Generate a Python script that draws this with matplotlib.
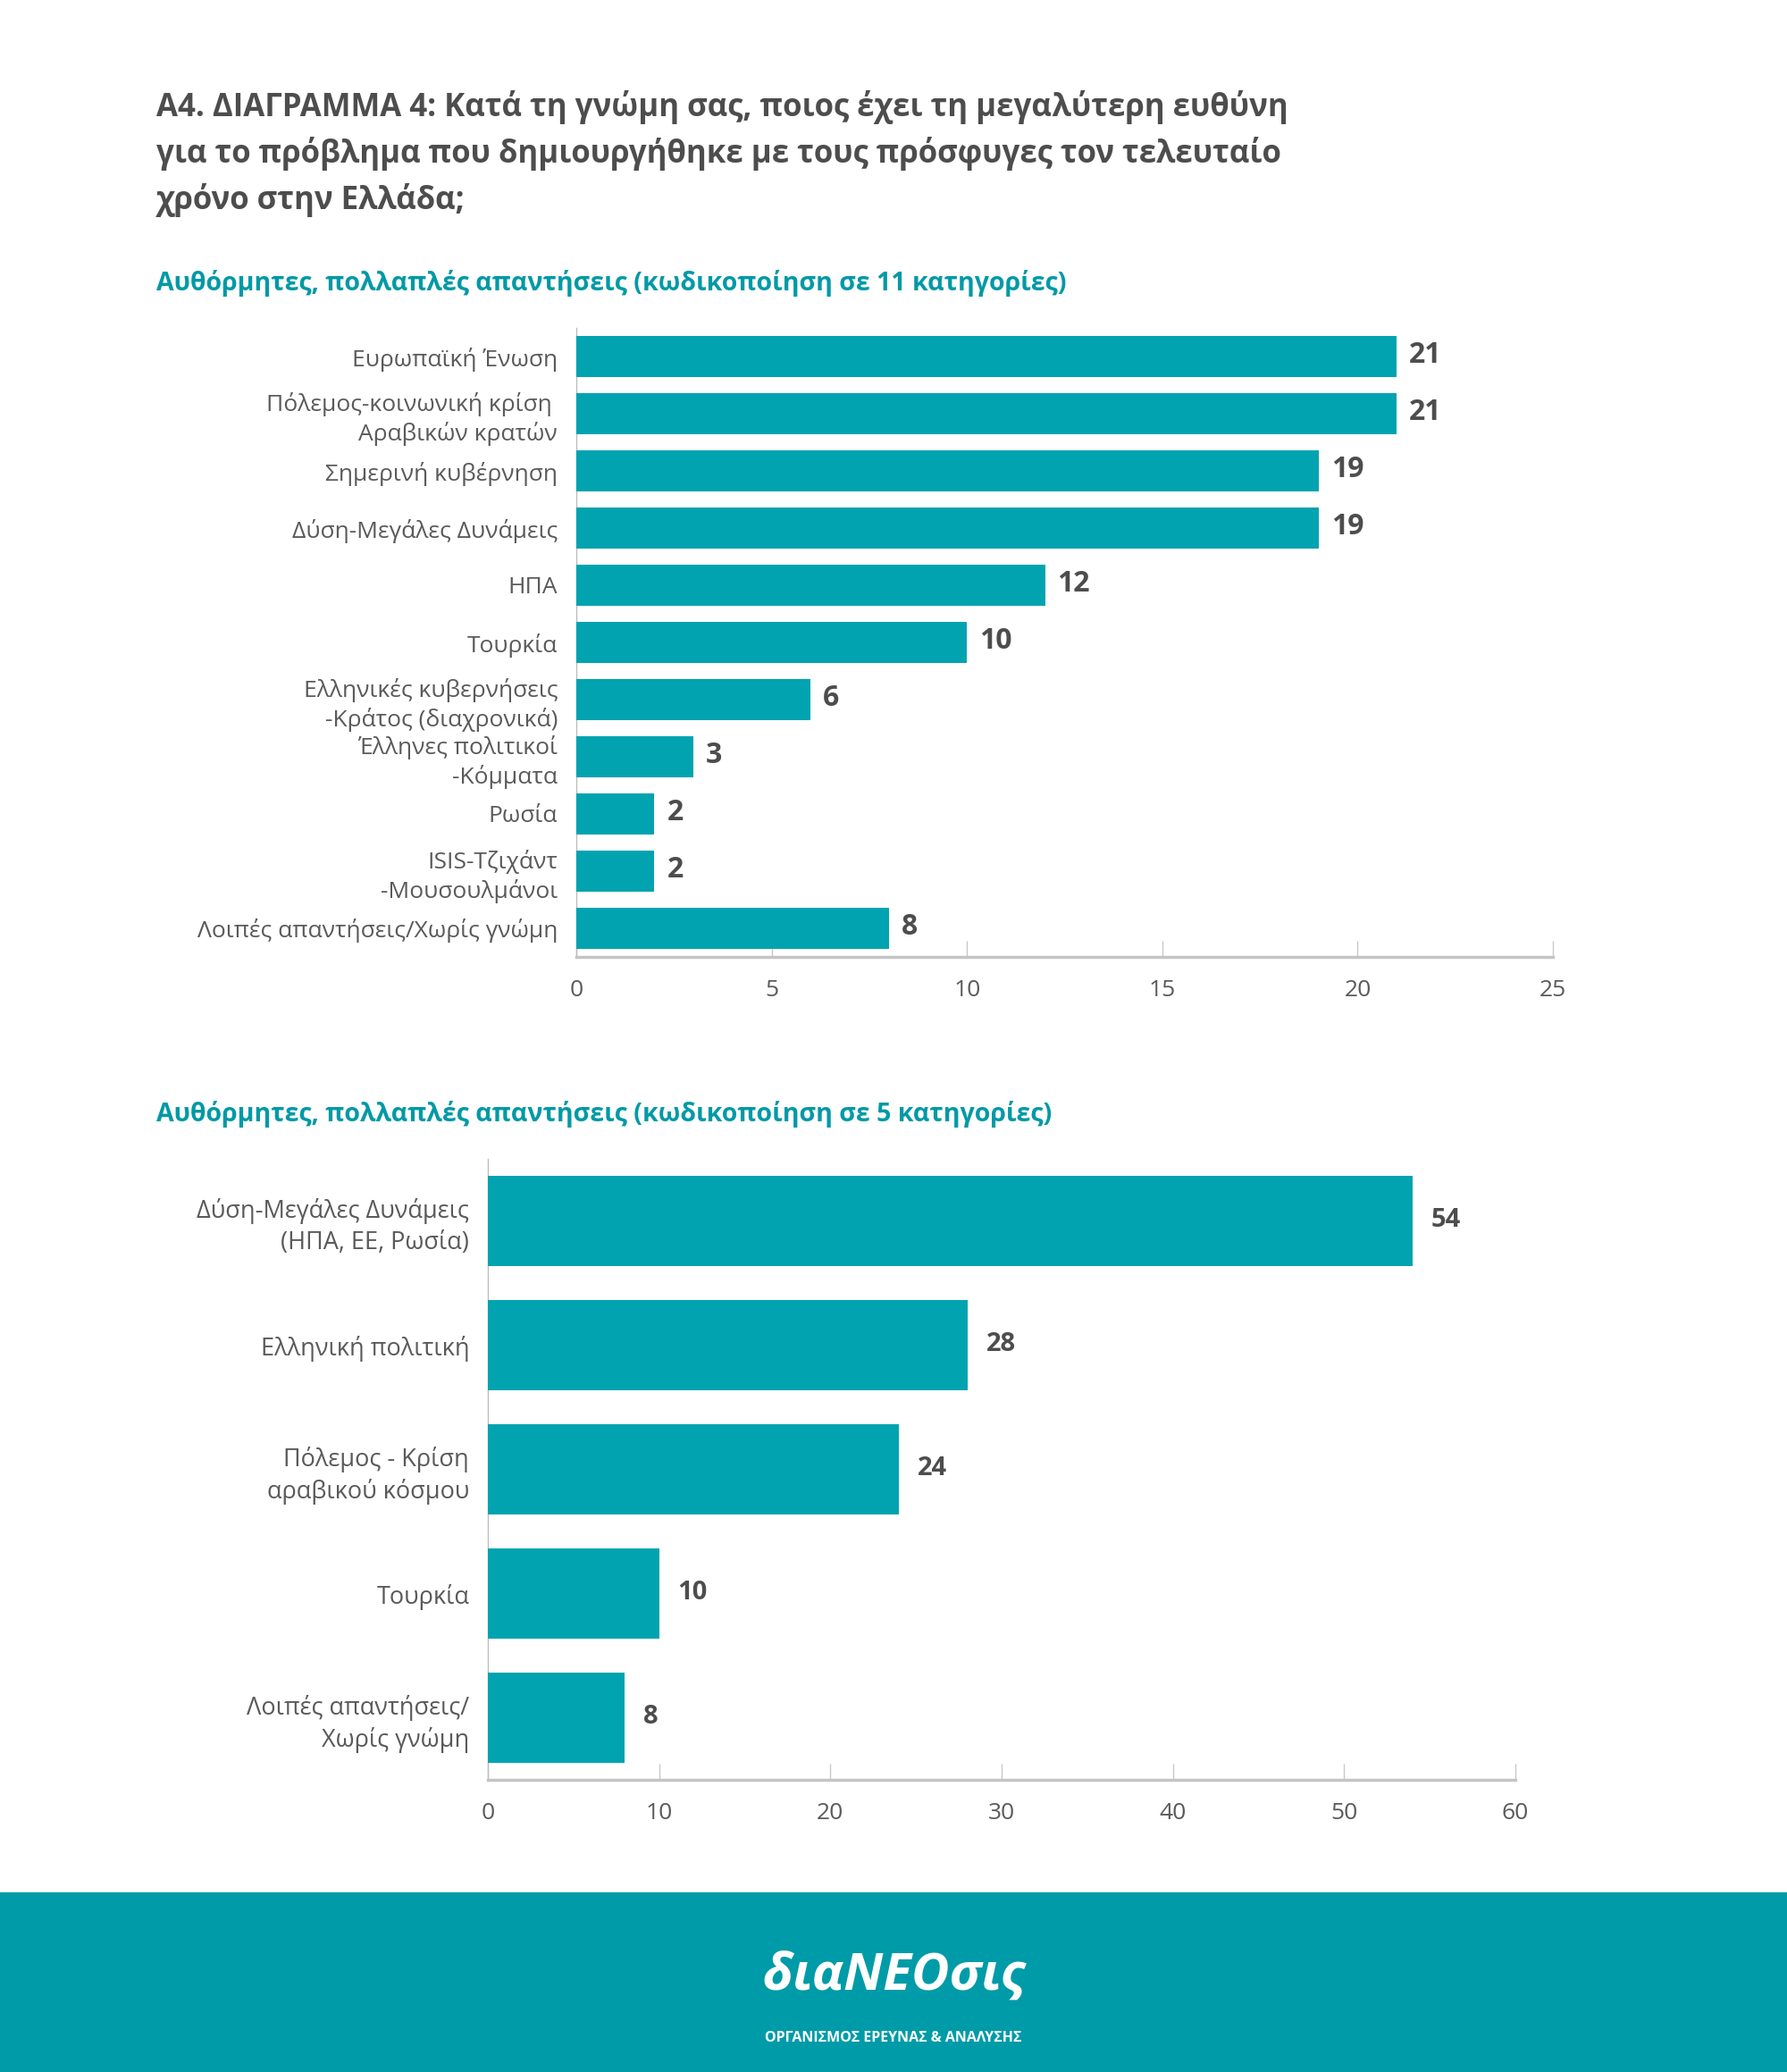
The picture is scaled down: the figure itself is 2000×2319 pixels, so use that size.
import matplotlib.pyplot as plt
from matplotlib.patches import Rectangle

plt.rcParams['font.family'] = ['Open Sans', 'DejaVu Sans']

# data
top_labels = ['Ευρωπαϊκή Ένωση', 'Πόλεμος-κοινωνική κρίση \nΑραβικών κρατών',
              'Σημερινή κυβέρνηση', 'Δύση-Μεγάλες Δυνάμεις', 'ΗΠΑ', 'Τουρκία',
              'Ελληνικές κυβερνήσεις\n-Κράτος (διαχρονικά)', 'Έλληνες πολιτικοί\n-Κόμματα',
              'Ρωσία', 'ISIS-Τζιχάντ\n-Μουσουλμάνοι', 'Λοιπές απαντήσεις/Χωρίς γνώμη']
top_values = [21, 21, 19, 19, 12, 10, 6, 3, 2, 2, 8]
top_ticks = [0, 5, 10, 15, 20, 25]

bottom_labels = ['Δύση-Μεγάλες Δυνάμεις\n(ΗΠΑ, ΕΕ, Ρωσία)', 'Ελληνική πολιτική',
                 'Πόλεμος - Κρίση\nαραβικού κόσμου', 'Τουρκία', 'Λοιπές απαντήσεις/\nΧωρίς γνώμη']
bottom_values = [54, 28, 24, 10, 8]
bottom_ticks = [0, 10, 20, 30, 40, 50, 60]

title = ('Α4. ΔΙΑΓΡΑΜΜΑ 4: Κατά τη γνώμη σας, ποιος έχει τη μεγαλύτερη ευθύνη\n'
         'για το πρόβλημα που δημιουργήθηκε με τους πρόσφυγες τον τελευταίο\n'
         'χρόνο στην Ελλάδα;')
sub1 = 'Αυθόρμητες, πολλαπλές απαντήσεις (κωδικοποίηση σε 11 κατηγορίες)'
sub2 = 'Αυθόρμητες, πολλαπλές απαντήσεις (κωδικοποίηση σε 5 κατηγορίες)'

BAR = '#00a3af'
TEAL_TXT = '#0099a6'
DARK = '#4d4d4d'
GRAY = '#5a5a5a'

W, H = 2000, 2319
fig = plt.figure(figsize=(W / 100, H / 100), dpi=100)
fig.patch.set_facecolor('white')


def draw(ax, labels, values, ticks, lab_size, val_size, val_off):
    y = list(range(len(values)))
    ax.barh(y, values, height=0.72, color=BAR, zorder=3)
    ax.set_ylim(len(values) - 0.5, -0.5)
    ax.set_xlim(ticks[0], ticks[-1])
    ax.set_yticks(y)
    ax.set_yticklabels(labels, fontsize=lab_size, color=GRAY, linespacing=1.3)
    ax.set_xticks(ticks)
    ax.set_xticklabels([str(t) for t in ticks], fontsize=19, color=GRAY)
    ax.tick_params(axis='y', length=0, pad=15)
    ax.tick_params(axis='x', direction='in', length=13, width=1, color='#c8c8c8', pad=18)
    for s in ['top', 'right']:
        ax.spines[s].set_visible(False)
    ax.spines['left'].set_color('#bdbdbd')
    ax.spines['left'].set_linewidth(1)
    ax.spines['bottom'].set_color('#c4c4c4')
    ax.spines['bottom'].set_linewidth(2.5)
    for yi, v in zip(y, values):
        ax.annotate(str(v), (v, yi), xytext=(val_off, 1), textcoords='offset points',
                    va='center', ha='left', fontsize=val_size, fontweight='bold', color=DARK)


ax1 = fig.add_axes([645 / W, 1 - 1071 / H, 1093 / W, 704 / H])
draw(ax1, top_labels, top_values, top_ticks, 19, 23, 10)

ax2 = fig.add_axes([546 / W, 1 - 1992 / H, 1150 / W, 695 / H])
draw(ax2, bottom_labels, bottom_values, bottom_ticks, 19.5, 21, 15)

fig.text(175 / W, 1 - 101 / H, title, fontsize=25, fontweight='bold', color=DARK,
         va='top', ha='left', linespacing=1.48)
fig.text(175 / W, 1 - 317 / H, sub1, fontsize=20.5, fontweight='bold', color=TEAL_TXT,
         va='center', ha='left')
fig.text(175 / W, 1 - 1247 / H, sub2, fontsize=20.5, fontweight='bold', color=TEAL_TXT,
         va='center', ha='left')

# footer band with logo
fig.patches.append(Rectangle((0, 0), 1, (H - 2118) / H, transform=fig.transFigure,
                             color='#009ba8', zorder=0))
fig.text(0.5, 1 - 2212 / H, 'διαNEOσις', fontsize=42, fontweight='bold', style='italic',
         color='white', ha='center', va='center')
fig.text(0.5, 1 - 2281 / H, 'ΟΡΓΑΝΙΣΜΟΣ ΕΡΕΥΝΑΣ & ΑΝΑΛΥΣΗΣ', fontsize=11.5, fontweight='bold',
         color='white', ha='center', va='center')

fig.savefig('out.png', dpi=100, facecolor='white')
